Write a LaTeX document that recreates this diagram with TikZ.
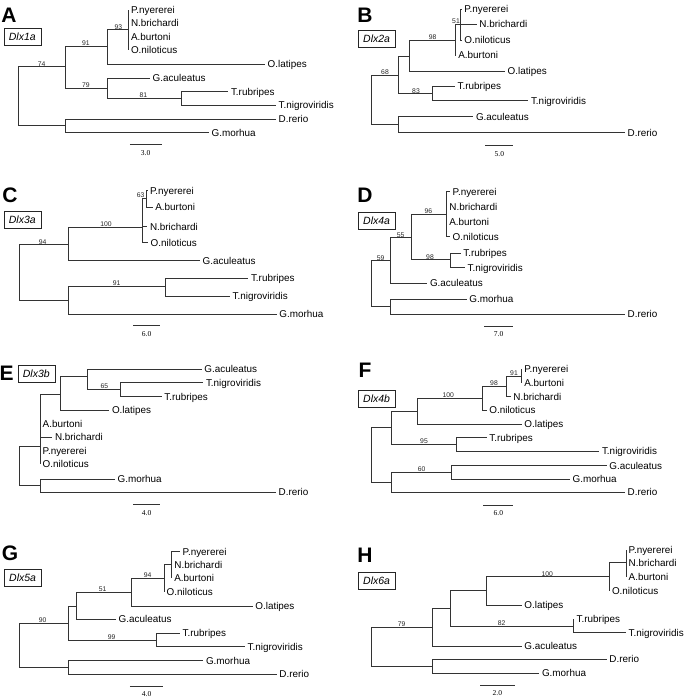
\documentclass[tikz,border=0pt]{standalone}
\usepackage{fontspec}
\setmainfont{Liberation Sans}
\newfontfamily\serifnum{Liberation Serif}
\begin{document}
\begin{tikzpicture}[x=1pt,y=-1pt,
 br/.style={draw=black!80, line width=0.6pt},
 lf/.style={anchor=west, inner sep=2.5pt, text height=7pt, text depth=0pt, font=\fontsize{9.9}{10}\selectfont},
 bs/.style={inner sep=0pt, font=\fontsize{6.8}{7}\selectfont, text=black!85},
 plet/.style={inner sep=0pt, font=\fontsize{21}{21}\selectfont\bfseries},
 gbox/.style={draw=black!85, line width=0.5pt, minimum width=37pt, minimum height=17pt, inner sep=1pt, font=\fontsize{10.5}{11}\selectfont\itshape},
 slab/.style={inner sep=0pt, font=\fontsize{7.5}{8}\selectfont\serifnum},
 pan/.style={x=0.33333pt, y=-0.33333pt}]
\useasboundingbox (0,0) rectangle (685,699);
\fill[white] (0,0) rectangle (685,699);

% ---------------- Panel A
\begin{scope}[pan]
\node[plet] (Alet) at (27,45) {A};
\node[gbox] (Agene) at (67,111) {Dlx1a};
\coordinate (AR) at (55,285);
\coordinate (A74) at (197,200);
\coordinate (Abot) at (197,375);
\coordinate (A91) at (322,140);
\coordinate (A79) at (322,265);
\coordinate (A93) at (385,88);
\coordinate (A81) at (543,295);
\node[lf] (Apny) at (385,30) {P.nyererei};
\node[lf] (Anbr) at (385,70) {N.brichardi};
\node[lf] (Aabu) at (385,110) {A.burtoni};
\node[lf] (Aoni) at (385,150) {O.niloticus};
\node[lf] (Aola) at (795,192) {O.latipes};
\node[lf] (Agac) at (450,235) {G.aculeatus};
\node[lf] (Atru) at (685,275) {T.rubripes};
\node[lf] (Atni) at (828,315) {T.nigroviridis};
\node[lf] (Adre) at (828,357) {D.rerio};
\node[lf] (Agmo) at (627,398) {G.morhua};
\draw[br] (AR) |- (A74) (AR) |- (Abot)
 (A74) |- (A91) (A74) |- (A79)
 (A91) |- (A93) (A91) |- (Aola.west)
 (A93) |- (Apny.west) (A93) |- (Anbr.west) (A93) |- (Aabu.west) (A93) |- (Aoni.west)
 (A79) |- (Agac.west) (A79) |- (A81)
 (A81) |- (Atru.west) (A81) |- (Atni.west)
 (Abot) |- (Adre.west) (Abot) |- (Agmo.west);
\node[bs] (Ab74) at (125,192) {74};
\node[bs] (Ab91) at (258,130) {91};
\node[bs] (Ab93) at (355,80) {93};
\node[bs] (Ab79) at (258,255) {79};
\node[bs] (Ab81) at (430,285) {81};
\coordinate (As1) at (390,433); \coordinate (As2) at (485,433);
\draw[br] (As1) -- (As2);
\node[slab] (Asl) at (437,460) {3.0};
\end{scope}

% ---------------- Panel B
\begin{scope}[xshift=340pt,pan]
\node[plet] (Blet) at (75,45) {B};
\node[gbox] (Bgene) at (110,115) {Dlx2a};
\coordinate (BR) at (95,298);
\coordinate (B68) at (175,225);
\coordinate (Bbot) at (175,372);
\coordinate (Ba) at (207,168);
\coordinate (B83) at (277,280);
\coordinate (B98) at (345,120);
\coordinate (B51) at (362,73);
\node[lf] (Bpny) at (365,28) {P.nyererei};
\node[lf] (Bnbr) at (410,73) {N.brichardi};
\node[lf] (Boni) at (365,120) {O.niloticus};
\node[lf] (Babu) at (347,165) {A.burtoni};
\node[lf] (Bola) at (495,213) {O.latipes};
\node[lf] (Btru) at (345,258) {T.rubripes};
\node[lf] (Btni) at (565,302) {T.nigroviridis};
\node[lf] (Bgac) at (400,350) {G.aculeatus};
\node[lf] (Bdre) at (855,398) {D.rerio};
\draw[br] (BR) |- (B68) (BR) |- (Bbot)
 (B68) |- (Ba) (B68) |- (B83)
 (Ba) |- (B98) (Ba) |- (Bola.west)
 (B98) |- (B51) (B98) |- (Babu.west)
 (B51) |- (Bpny.west) (B51) |- (Bnbr.west) (B51) |- (Boni.west)
 (B83) |- (Btru.west) (B83) |- (Btni.west)
 (Bbot) |- (Bgac.west) (Bbot) |- (Bdre.west);
\node[bs] (Bb68) at (135,215) {68};
\node[bs] (Bb98) at (278,110) {98};
\node[bs] (Bb51) at (348,65) {51};
\node[bs] (Bb83) at (228,272) {83};
\coordinate (Bs1) at (435,435); \coordinate (Bs2) at (520,435);
\draw[br] (Bs1) -- (Bs2);
\node[slab] (Bsl) at (478,462) {5.0};
\end{scope}

% ---------------- Panel C
\begin{scope}[yshift=-170pt,pan]
\node[plet] (Clet) at (30,75) {C};
\node[gbox] (Cgene) at (67,148) {Dlx3a};
\coordinate (CR) at (57,306);
\coordinate (C94) at (205,222);
\coordinate (Cbot) at (205,390);
\coordinate (C100) at (428,172);
\coordinate (C63) at (440,85);
\coordinate (C91) at (495,350);
\node[lf] (Cpny) at (442,62) {P.nyererei};
\node[lf] (Cabu) at (458,112) {A.burtoni};
\node[lf] (Cnbr) at (442,170) {N.brichardi};
\node[lf] (Coni) at (444,218) {O.niloticus};
\node[lf] (Cgac) at (600,272) {G.aculeatus};
\node[lf] (Ctru) at (745,325) {T.rubripes};
\node[lf] (Ctni) at (690,378) {T.nigroviridis};
\node[lf] (Cgmo) at (830,432) {G.morhua};
\draw[br] (CR) |- (C94) (CR) |- (Cbot)
 (C94) |- (C100) (C94) |- (Cgac.west)
 (C100) |- (C63) (C100) |- (Cnbr.west) (C100) |- (Coni.west)
 (C63) |- (Cpny.west) (C63) |- (Cabu.west)
 (Cbot) |- (C91) (Cbot) |- (Cgmo.west)
 (C91) |- (Ctru.west) (C91) |- (Ctni.west);
\node[bs] (Cb94) at (128,215) {94};
\node[bs] (Cb100) at (318,163) {100};
\node[bs] (Cb63) at (422,75) {63};
\node[bs] (Cb91) at (350,340) {91};
\coordinate (Cs1) at (400,467); \coordinate (Cs2) at (480,467);
\draw[br] (Cs1) -- (Cs2);
\node[slab] (Csl) at (440,493) {6.0};
\end{scope}

% ---------------- Panel D
\begin{scope}[xshift=340pt,yshift=-170pt,pan]
\node[plet] (Dlet) at (75,75) {D};
\node[gbox] (Dgene) at (110,153) {Dlx4a};
\coordinate (DR) at (95,341);
\coordinate (D59) at (150,272);
\coordinate (Dbot) at (150,410);
\coordinate (D55) at (215,202);
\coordinate (D96) at (318,132);
\coordinate (D98) at (330,268);
\node[lf] (Dpny) at (330,65) {P.nyererei};
\node[lf] (Dnbr) at (320,110) {N.brichardi};
\node[lf] (Dabu) at (320,155) {A.burtoni};
\node[lf] (Doni) at (330,200) {O.niloticus};
\node[lf] (Dtru) at (362,250) {T.rubripes};
\node[lf] (Dtni) at (375,293) {T.nigroviridis};
\node[lf] (Dgac) at (262,340) {G.aculeatus};
\node[lf] (Dgmo) at (380,388) {G.morhua};
\node[lf] (Ddre) at (855,433) {D.rerio};
\draw[br] (DR) |- (D59) (DR) |- (Dbot)
 (D59) |- (D55) (D59) |- (Dgac.west)
 (D55) |- (D96) (D55) |- (D98)
 (D96) |- (Dpny.west) (D96) |- (Dnbr.west) (D96) |- (Dabu.west) (D96) |- (Doni.west)
 (D98) |- (Dtru.west) (D98) |- (Dtni.west)
 (Dbot) |- (Dgmo.west) (Dbot) |- (Ddre.west);
\node[bs] (Db59) at (122,265) {59};
\node[bs] (Db55) at (182,195) {55};
\node[bs] (Db96) at (265,122) {96};
\node[bs] (Db98) at (270,260) {98};
\coordinate (Ds1) at (432,468); \coordinate (Ds2) at (520,468);
\draw[br] (Ds1) -- (Ds2);
\node[slab] (Dsl) at (476,493) {7.0};
\end{scope}

% ---------------- Panel E
\begin{scope}[yshift=-345pt,pan]
\node[plet] (Elet) at (20,85) {E};
\node[gbox] (Egene) at (109,86) {Dlx3b};
\coordinate (ER) at (57,362);
\coordinate (EX) at (120,305);
\coordinate (Ebot) at (120,420);
\coordinate (E180) at (180,148);
\coordinate (E262) at (262,95);
\coordinate (E65) at (362,134);
\node[lf] (Egac) at (605,72) {G.aculeatus};
\node[lf] (Etni) at (610,113) {T.nigroviridis};
\node[lf] (Etru) at (485,155) {T.rubripes};
\node[lf] (Eola) at (328,195) {O.latipes};
\node[lf] (Eabu) at (120,237) {A.burtoni};
\node[lf] (Enbr) at (157,277) {N.brichardi};
\node[lf] (Epny) at (120,318) {P.nyererei};
\node[lf] (Eoni) at (120,358) {O.niloticus};
\node[lf] (Egmo) at (345,403) {G.morhua};
\node[lf] (Edre) at (828,442) {D.rerio};
\draw[br] (ER) |- (EX) (ER) |- (Ebot)
 (EX) |- (E180) (EX) |- (Eabu.west) (EX) |- (Enbr.west) (EX) |- (Epny.west) (EX) |- (Eoni.west)
 (E180) |- (E262) (E180) |- (Eola.west)
 (E262) |- (Egac.west) (E262) |- (E65)
 (E65) |- (Etni.west) (E65) |- (Etru.west)
 (Ebot) |- (Egmo.west) (Ebot) |- (Edre.west);
\node[bs] (Eb65) at (313,124) {65};
\coordinate (Es1) at (400,478); \coordinate (Es2) at (480,478);
\draw[br] (Es1) -- (Es2);
\node[slab] (Esl) at (440,503) {4.0};
\end{scope}

% ---------------- Panel F
\begin{scope}[xshift=340pt,yshift=-345pt,pan]
\node[plet] (Flet) at (75,75) {F};
\node[gbox] (Fgene) at (110,160) {Dlx4b};
\coordinate (FR) at (95,330);
\coordinate (Ftop) at (155,248);
\coordinate (Fbot) at (155,412);
\coordinate (Fa) at (232,198);
\coordinate (F95) at (350,297);
\coordinate (F100) at (428,160);
\coordinate (F98) at (500,123);
\coordinate (F91) at (545,93);
\coordinate (F60) at (335,382);
\node[lf] (Fpny) at (545,72) {P.nyererei};
\node[lf] (Fabu) at (545,113) {A.burtoni};
\node[lf] (Fnbr) at (512,155) {N.brichardi};
\node[lf] (Foni) at (440,195) {O.niloticus};
\node[lf] (Fola) at (545,237) {O.latipes};
\node[lf] (Ftru) at (440,278) {T.rubripes};
\node[lf] (Ftni) at (778,318) {T.nigroviridis};
\node[lf] (Fgac) at (800,362) {G.aculeatus};
\node[lf] (Fgmo) at (690,402) {G.morhua};
\node[lf] (Fdre) at (855,442) {D.rerio};
\draw[br] (FR) |- (Ftop) (FR) |- (Fbot)
 (Ftop) |- (Fa) (Ftop) |- (F95)
 (Fa) |- (F100) (Fa) |- (Fola.west)
 (F100) |- (F98) (F100) |- (Foni.west)
 (F98) |- (F91) (F98) |- (Fnbr.west)
 (F91) |- (Fpny.west) (F91) |- (Fabu.west)
 (F95) |- (Ftru.west) (F95) |- (Ftni.west)
 (Fbot) |- (F60) (Fbot) |- (Fdre.west)
 (F60) |- (Fgac.west) (F60) |- (Fgmo.west);
\node[bs] (Fb100) at (325,150) {100};
\node[bs] (Fb98) at (462,113) {98};
\node[bs] (Fb91) at (522,83) {91};
\node[bs] (Fb95) at (252,288) {95};
\node[bs] (Fb60) at (245,372) {60};
\coordinate (Fs1) at (430,480); \coordinate (Fs2) at (520,480);
\draw[br] (Fs1) -- (Fs2);
\node[slab] (Fsl) at (475,505) {6.0};
\end{scope}

% ---------------- Panel G
\begin{scope}[yshift=-520pt,pan]
\node[plet] (Glet) at (30,100) {G};
\node[gbox] (Ggene) at (68,173) {Dlx5a};
\coordinate (GR) at (57,376);
\coordinate (G90) at (205,310);
\coordinate (Gbot) at (205,442);
\coordinate (Gb) at (230,258);
\coordinate (G99) at (468,360);
\coordinate (G51) at (395,218);
\coordinate (G94) at (492,175);
\coordinate (Gc) at (515,132);
\node[lf] (Gpny) at (540,95) {P.nyererei};
\node[lf] (Gnbr) at (515,135) {N.brichardi};
\node[lf] (Gabu) at (515,175) {A.burtoni};
\node[lf] (Goni) at (492,215) {O.niloticus};
\node[lf] (Gola) at (758,258) {O.latipes};
\node[lf] (Ggac) at (348,298) {G.aculeatus};
\node[lf] (Gtru) at (540,340) {T.rubripes};
\node[lf] (Gtni) at (735,380) {T.nigroviridis};
\node[lf] (Ggmo) at (610,422) {G.morhua};
\node[lf] (Gdre) at (830,462) {D.rerio};
\draw[br] (GR) |- (G90) (GR) |- (Gbot)
 (G90) |- (Gb) (G90) |- (G99)
 (Gb) |- (G51) (Gb) |- (Ggac.west)
 (G51) |- (G94) (G51) |- (Gola.west)
 (G94) |- (Gc) (G94) |- (Goni.west)
 (Gc) |- (Gpny.west) (Gc) |- (Gnbr.west) (Gc) |- (Gabu.west)
 (G99) |- (Gtru.west) (G99) |- (Gtni.west)
 (Gbot) |- (Ggmo.west) (Gbot) |- (Gdre.west);
\node[bs] (Gb90) at (128,300) {90};
\node[bs] (Gb51) at (308,208) {51};
\node[bs] (Gb94) at (443,165) {94};
\node[bs] (Gb99) at (335,350) {99};
\coordinate (Gs1) at (390,498); \coordinate (Gs2) at (488,498);
\draw[br] (Gs1) -- (Gs2);
\node[slab] (Gsl) at (440,522) {4.0};
\end{scope}

% ---------------- Panel H
\begin{scope}[xshift=340pt,yshift=-520pt,pan]
\node[plet] (Hlet) at (75,105) {H};
\node[gbox] (Hgene) at (110,182) {Dlx6a};
\coordinate (HR) at (95,380);
\coordinate (H79) at (278,322);
\coordinate (Hbot) at (278,438);
\coordinate (Hc) at (330,265);
\coordinate (Hd) at (438,212);
\coordinate (H100) at (808,170);
\coordinate (He) at (858,128);
\coordinate (H82) at (700,318);
\node[lf] (Hpny) at (858,90) {P.nyererei};
\node[lf] (Hnbr) at (858,130) {N.brichardi};
\node[lf] (Habu) at (858,170) {A.burtoni};
\node[lf] (Honi) at (808,212) {O.niloticus};
\node[lf] (Hola) at (545,255) {O.latipes};
\node[lf] (Htru) at (702,298) {T.rubripes};
\node[lf] (Htni) at (858,338) {T.nigroviridis};
\node[lf] (Hgac) at (545,378) {G.aculeatus};
\node[lf] (Hdre) at (800,418) {D.rerio};
\node[lf] (Hgmo) at (598,460) {G.morhua};
\draw[br] (HR) |- (H79) (HR) |- (Hbot)
 (H79) |- (Hc) (H79) |- (Hgac.west)
 (Hc) |- (Hd) (Hc) |- (H82)
 (Hd) |- (H100) (Hd) |- (Hola.west)
 (H100) |- (He) (H100) |- (Honi.west)
 (He) |- (Hpny.west) (He) |- (Hnbr.west) (He) |- (Habu.west)
 (H82) |- (Htru.west) (H82) |- (Htni.west)
 (Hbot) |- (Hdre.west) (Hbot) |- (Hgmo.west);
\node[bs] (Hb79) at (185,312) {79};
\node[bs] (Hb100) at (622,163) {100};
\node[bs] (Hb82) at (485,308) {82};
\coordinate (Hs1) at (420,495); \coordinate (Hs2) at (525,495);
\draw[br] (Hs1) -- (Hs2);
\node[slab] (Hsl) at (472,520) {2.0};
\end{scope}
\end{tikzpicture}
\end{document}
